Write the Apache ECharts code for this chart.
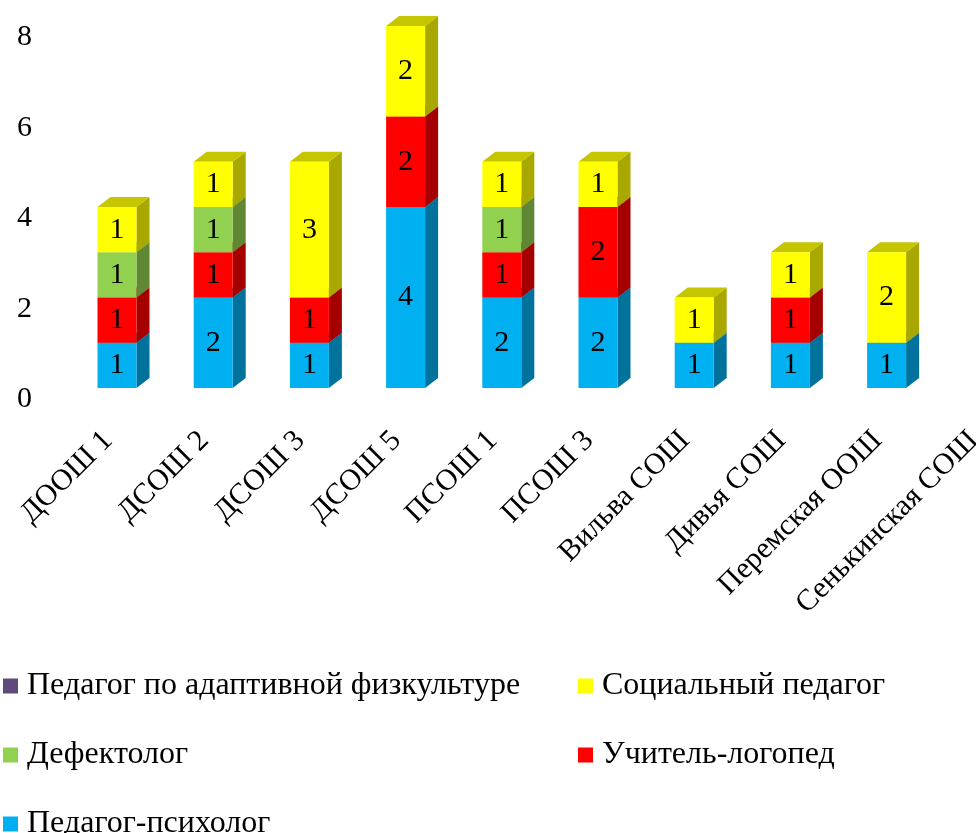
<!DOCTYPE html>
<html>
<head>
<meta charset="utf-8">
<script src="https://cdn.jsdelivr.net/npm/echarts@6/dist/echarts.min.js"></script>
<style>
  html, body { margin: 0; padding: 0; background: #fff; overflow: hidden; }
  /* the original picture is cut at its right edge, so the canvas runs past the window */
  #chart { width: 1040px; height: 833px; }
</style>
</head>
<body>
<div id="chart"></div>
<script>
const categories = ["ДООШ 1", "ДСОШ 2", "ДСОШ 3", "ДСОШ 5", "ПСОШ 1", "ПСОШ 3", "Вильва СОШ", "Дивья СОШ", "Перемская ООШ", "Сенькинская СОШ"];

// stacked bottom to top
const psychologist = [1, 2, 1, 4, 2, 2, 1, 1, 1, 0];
const speechTherapist = [1, 1, 1, 2, 1, 2, 0, 1, 0, 0];
const defectologist = [1, 1, 0, 0, 1, 0, 0, 0, 0, 0];
const socialPedagog = [1, 1, 3, 2, 1, 1, 1, 1, 2, 0];
const adaptivePE = [0, 0, 0, 0, 0, 0, 0, 0, 0, 0];

const yTicks = [0, 2, 4, 6, 8];

const FONT = '"Liberation Serif", "Times New Roman", serif';
const HALF_W = 19.5;
const SHIFT = 9;   // front face sits a little right of the label anchor
const DX = 13;
const DY = 10;

const layers = [
  { name: "Педагог-психолог", values: psychologist, front: "#00B0F0", side: "#00729C", top: "#0089BB" },
  { name: "Учитель-логопед", values: speechTherapist, front: "#FF0000", side: "#A50000", top: "#C60000" },
  { name: "Дефектолог", values: defectologist, front: "#92D050", side: "#5F8734", top: "#72A23E" },
  { name: "Социальный педагог", values: socialPedagog, front: "#FFFF00", side: "#A8A800", top: "#C6C600" },
  { name: "Педагог по адаптивной физкультуре", values: adaptivePE, front: "#604A7B", side: "#3E3050", top: "#4B3A60" }
];

const totals = categories.map(() => 0);
const series = layers.map((layer) => {
  const data = layer.values.map((v, i) => {
    const base = totals[i];
    totals[i] += v;
    return [i, base, v];
  });
  return {
    name: layer.name,
    type: "custom",
    itemStyle: { color: layer.front },
    encode: { x: 0, y: [1, 2] },
    data,
    renderItem: (params, api) => {
      const v = api.value(2);
      if (!v) return null;
      const i = api.value(0);
      const base = api.value(1);
      const p0 = api.coord([i, base]);
      const p1 = api.coord([i, base + v]);
      const cx = p0[0] + SHIFT;
      const x0 = cx - HALF_W;
      const x1 = cx + HALF_W;
      const yb = p0[1];
      const yt = p1[1];
      return {
        type: "group",
        children: [
          {
            type: "polygon",
            shape: { points: [[x1, yb], [x1 + DX, yb - DY], [x1 + DX, yt - DY], [x1, yt]] },
            style: { fill: layer.side }
          },
          {
            type: "polygon",
            shape: { points: [[x0, yt], [x0 + DX, yt - DY], [x1 + DX, yt - DY], [x1, yt]] },
            style: { fill: layer.top }
          },
          {
            type: "rect",
            shape: { x: x0, y: yt, width: x1 - x0, height: yb - yt },
            style: { fill: layer.front }
          },
          {
            type: "text",
            style: {
              text: String(v),
              x: cx,
              y: (yb + yt) / 2,
              align: "center",
              verticalAlign: "middle",
              fontSize: 30,
              fontFamily: FONT,
              fill: "#000"
            }
          }
        ]
      };
    }
  };
});

const chart = echarts.init(document.getElementById("chart"), null, { renderer: "canvas" });

const legendText = { color: "#000", fontSize: 32, fontFamily: FONT, lineHeight: 31, padding: [0, 0, 0, 4] };

chart.setOption({
  animation: false,
  backgroundColor: "#fff",
  grid: { left: 59.9, width: 962, top: 26, bottom: 445, containLabel: false },
  xAxis: {
    type: "category",
    data: categories,
    axisLine: { show: false },
    axisTick: { show: false },
    axisLabel: {
      interval: 0,
      rotate: 45,
      margin: 48,
      color: "#000",
      fontSize: 30,
      fontFamily: FONT
    }
  },
  yAxis: {
    type: "value",
    min: yTicks[0],
    max: yTicks[yTicks.length - 1],
    interval: 2,
    axisLine: { show: false },
    axisTick: { show: false },
    splitLine: { show: false },
    axisLabel: {
      margin: 28,
      color: "#000",
      fontSize: 30,
      fontFamily: FONT,
      verticalAlign: "top",
      lineHeight: 23
    }
  },
  legend: [
    {
      orient: "vertical",
      left: 3,
      top: 670,
      height: 300,
      padding: 0,
      itemWidth: 15,
      itemHeight: 15,
      itemGap: 37,
      icon: "rect",
      selectedMode: false,
      textStyle: legendText,
      data: ["Педагог по адаптивной физкультуре", "Дефектолог", "Педагог-психолог"]
    },
    {
      orient: "vertical",
      left: 578,
      top: 670,
      height: 300,
      padding: 0,
      itemWidth: 15,
      itemHeight: 15,
      itemGap: 37,
      icon: "rect",
      selectedMode: false,
      textStyle: legendText,
      data: ["Социальный педагог", "Учитель-логопед"]
    }
  ],
  series
});
</script>
</body>
</html>
